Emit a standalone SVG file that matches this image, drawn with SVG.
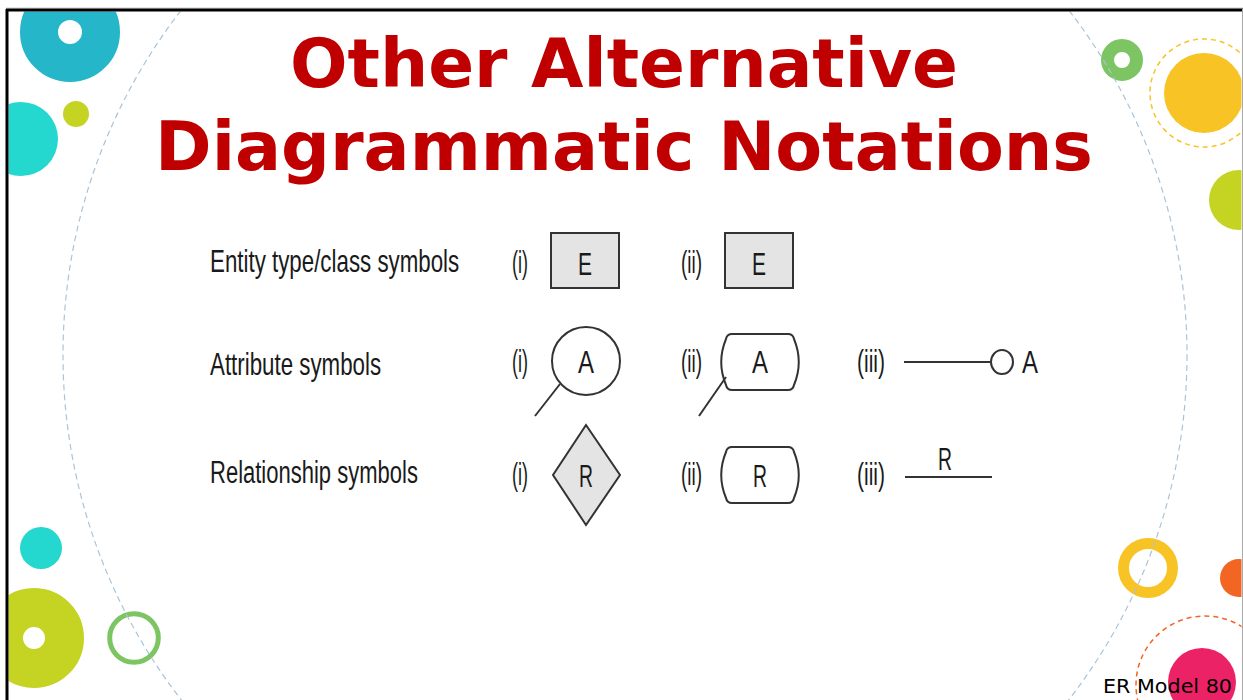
<svg xmlns="http://www.w3.org/2000/svg" width="1243" height="700" viewBox="0 0 1243 700">
<defs>
<style>
.title{font-family:"DejaVu Sans",Verdana,sans-serif;font-weight:bold;font-size:68px;fill:#C00000;text-anchor:middle}
.body{font-family:"Liberation Sans",Arial,sans-serif;font-size:31px;fill:#1a1a1a}
.lbl{font-family:"Liberation Sans",Arial,sans-serif;font-size:32px;fill:#1a1a1a}
.sym{font-family:"Liberation Sans",Arial,sans-serif;font-size:32px;fill:#1a1a1a;text-anchor:middle}
.shape{stroke:#333;stroke-width:2}
.gray{fill:#E4E4E4}
.white{fill:#fff}
.ln{stroke:#333;stroke-width:2;fill:none}
.foot{font-family:"DejaVu Sans",Verdana,sans-serif;font-size:20px;fill:#000}
</style>
<clipPath id="frame"><rect x="8.5" y="11.5" width="1233" height="690"/></clipPath>
</defs>
<rect width="1243" height="700" fill="#fff"/>
<g id="decor" clip-path="url(#frame)">
<circle cx="70" cy="32" r="31" fill="none" stroke="#25B6CA" stroke-width="38"/>
<circle cx="21" cy="139" r="37" fill="#25D8CF"/>
<circle cx="76" cy="114" r="13" fill="#C5D322"/>
<circle cx="41" cy="548" r="21" fill="#25D8CF"/>
<circle cx="34" cy="638" r="30.5" fill="none" stroke="#C5D322" stroke-width="39"/>
<circle cx="134" cy="638" r="24.3" fill="none" stroke="#7DC462" stroke-width="5"/>
<circle cx="1122" cy="60" r="14.5" fill="none" stroke="#7DC462" stroke-width="13"/>
<circle cx="1204" cy="93" r="40" fill="#F8C325"/>
<circle cx="1204" cy="93" r="54" fill="none" stroke="#F8C325" stroke-width="1.5" stroke-dasharray="5 4"/>
<circle cx="1239" cy="200" r="30" fill="#C5D322"/>
<circle cx="1148" cy="568" r="24.5" fill="none" stroke="#F8C325" stroke-width="11"/>
<circle cx="1239" cy="578" r="19" fill="#F26522"/>
<circle cx="1205" cy="685" r="69" fill="none" stroke="#F26522" stroke-width="1.5" stroke-dasharray="5 4"/>
<circle cx="1202" cy="682" r="34" fill="#EC2266"/>
<circle cx="625" cy="355" r="562" fill="none" stroke="#A9C4D8" stroke-width="1.2" stroke-dasharray="6 4"/>
</g>
<g id="frame-lines">
<line x1="6" y1="8" x2="1243" y2="8" stroke="#ccc" stroke-width="1"/>
<line x1="6" y1="10" x2="1243" y2="10" stroke="#000" stroke-width="3"/>
<line x1="7" y1="9" x2="7" y2="700" stroke="#000" stroke-width="3"/>
<line x1="1242.5" y1="9" x2="1242.5" y2="700" stroke="#aaa" stroke-width="1"/>
</g>
<g id="title">
<text class="title" x="624" y="87" textLength="668" lengthAdjust="spacingAndGlyphs">Other Alternative</text>
<text class="title" x="624" y="170" textLength="938" lengthAdjust="spacingAndGlyphs">Diagrammatic Notations</text>
</g>
<g id="row-labels">
<text class="body" transform="translate(210,272) scale(0.72,1)">Entity type/class symbols</text>
<text class="body" transform="translate(210,375) scale(0.72,1)">Attribute symbols</text>
<text class="body" transform="translate(210,483) scale(0.71,1)">Relationship symbols</text>
</g>
<g id="entity-i">
<text class="lbl" x="512" y="273" textLength="16" lengthAdjust="spacingAndGlyphs">(i)</text>
<rect class="shape gray" x="551" y="233" width="68" height="55"/>
<text class="sym" x="585" y="275" textLength="14" lengthAdjust="spacingAndGlyphs">E</text>
</g>
<g id="entity-ii">
<text class="lbl" x="681" y="273" textLength="21" lengthAdjust="spacingAndGlyphs">(ii)</text>
<rect class="shape gray" x="725" y="233" width="68" height="55"/>
<text class="sym" x="759" y="275" textLength="14" lengthAdjust="spacingAndGlyphs">E</text>
</g>
<g id="attribute-i">
<text class="lbl" x="512" y="372" textLength="16" lengthAdjust="spacingAndGlyphs">(i)</text>
<circle class="shape white" cx="586" cy="361" r="34"/>
<text class="sym" x="586" y="373" textLength="16" lengthAdjust="spacingAndGlyphs">A</text>
</g>
<g id="attribute-ii">
<text class="lbl" x="681" y="372" textLength="21" lengthAdjust="spacingAndGlyphs">(ii)</text>
<path class="shape white" d="M732,334 H788 Q793,334 794,339 A60 60 0 0 1 794,385 Q793,390 788,390 H732 Q727,390 726,385 A60 60 0 0 1 726,339 Q727,334 732,334 Z"/>
<text class="sym" x="760" y="373" textLength="16" lengthAdjust="spacingAndGlyphs">A</text>
</g>
<g id="attribute-iii">
<text class="lbl" x="857" y="372" textLength="28" lengthAdjust="spacingAndGlyphs">(iii)</text>
<ellipse class="shape white" cx="1002" cy="362" rx="11" ry="12"/>
<text class="sym" x="1030" y="373" textLength="16" lengthAdjust="spacingAndGlyphs">A</text>
</g>
<g id="relationship-i">
<text class="lbl" x="512" y="485" textLength="16" lengthAdjust="spacingAndGlyphs">(i)</text>
<polygon class="shape gray" points="586,425 620,475 586,525 553,475"/>
<text class="sym" x="586" y="487" textLength="14" lengthAdjust="spacingAndGlyphs">R</text>
</g>
<g id="relationship-ii">
<text class="lbl" x="681" y="485" textLength="21" lengthAdjust="spacingAndGlyphs">(ii)</text>
<path class="shape white" d="M732,447 H788 Q793,447 794,452 A60 60 0 0 1 794,498 Q793,503 788,503 H732 Q727,503 726,498 A60 60 0 0 1 726,452 Q727,447 732,447 Z"/>
<text class="sym" x="760" y="487" textLength="14" lengthAdjust="spacingAndGlyphs">R</text>
</g>
<g id="relationship-iii">
<text class="lbl" x="857" y="485" textLength="28" lengthAdjust="spacingAndGlyphs">(iii)</text>
<text class="sym" x="945" y="470" textLength="14" lengthAdjust="spacingAndGlyphs">R</text>
</g>
<g id="connectors">
<line class="ln" x1="560" y1="384" x2="535" y2="416"/>
<line class="ln" x1="726" y1="377" x2="699" y2="416"/>
<line class="ln" x1="904" y1="362" x2="991" y2="362"/>
<line class="ln" x1="905" y1="477" x2="992" y2="477"/>
</g>
<g id="footer">
<text class="foot" x="1103" y="693" textLength="129" lengthAdjust="spacingAndGlyphs">ER Model 80</text>
</g>
</svg>
